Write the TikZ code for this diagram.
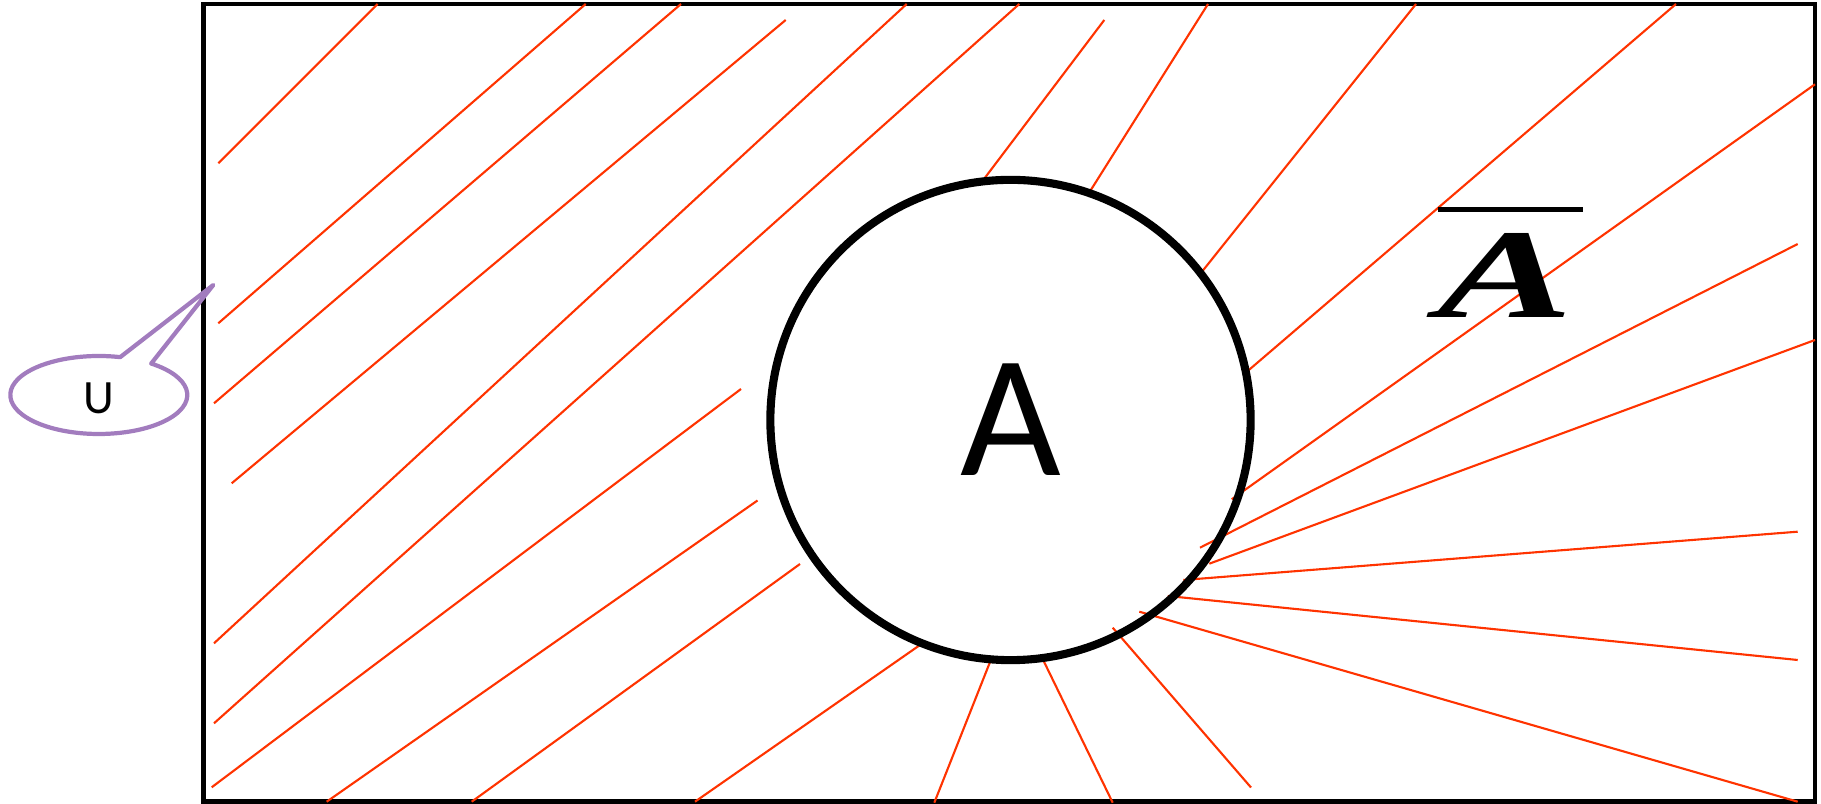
\documentclass[tikz,border=0pt]{standalone}
\usepackage{fontspec}
\newfontfamily\calibfont{Carlito}
\newfontfamily\timesfont{Liberation Serif}
\definecolor{hatchred}{RGB}{255,51,0}
\definecolor{upurple}{RGB}{162,124,190}

\begin{document}
\begin{tikzpicture}[x=0.01cm, y=-0.01cm,
  frame/.style={black, line width=1.3pt},
  hatch/.style={hatchred, line width=0.6pt},
  setcircle/.style={circle, draw=black, line width=2.3pt, minimum size=4.8cm, inner sep=0pt,
    font=\calibfont\fontsize{49.5}{50}\selectfont},
  callout/.style={upurple, line width=1.2pt, line join=round, line cap=round}]
  \useasboundingbox (0,0) rectangle (1821,804);

  % Universe
  \draw[frame] (203.3,4) rectangle (1814.8,801.7);

  % Hatching, left part
  \draw[hatch] (218.3,163.3) -- (377.7,4);
  \draw[hatch] (218.3,323.3) -- (585.7,4);
  \draw[hatch] (214,403.3) -- (681,4);
  \draw[hatch] (231.7,483.3) -- (785.7,20);
  \draw[hatch] (214,643.3) -- (906.7,4);
  \draw[hatch] (214,723.3) -- (1019.3,4);
  \draw[hatch] (211.7,787.3) -- (741,389);
  \draw[hatch] (326.7,801.7) -- (757.5,500.5);
  \draw[hatch] (471.7,801.7) -- (800,564);

  % Hatching, below the set
  \draw[hatch] (695,801.7) -- (921,644.3);
  \draw[hatch] (934.3,802.7) -- (990.7,660.3);
  \draw[hatch] (1112.7,802.7) -- (1043.3,660.3);
  \draw[hatch] (1251,787.5) -- (1112.7,627.7);

  % Hatching, right part
  \draw[hatch] (1797.7,801.7) -- (1139.3,611.7);
  \draw[hatch] (1797.7,660) -- (1167.7,596);
  \draw[hatch] (1797.7,531.7) -- (1183.3,580);
  \draw[hatch] (1815,340) -- (1209.3,563.7);
  \draw[hatch] (1797.7,244) -- (1200,547.7);
  \draw[hatch] (1815,84.3) -- (1231.7,499.3);
  \draw[hatch] (1676,4) -- (1247.7,371);
  \draw[hatch] (1416,4) -- (1199.3,275);
  \draw[hatch] (1208,4) -- (1087.7,195);
  \draw[hatch] (1104.3,20) -- (984,179);

  % Set A
  \node[setcircle] (seta) at (1010.5,420) {A};

  % Complement label
  \node[inner sep=0pt, xscale=1.6, font=\timesfont\bfseries\itshape\fontsize{36.2}{37}\selectfont]
    (acomp) at (1505.5,275.8) {A};
  \draw[black, line width=1.35pt] (1438.3,209.7) -- (1583.3,209.7);

  % Callout for U
  \node[inner sep=0pt, font=\calibfont\fontsize{13.6}{14}\selectfont] (ulabel) at (98.7,398.7) {U};
  \coordinate (utip) at (213.3,285);
  \draw[callout] (98.8,395) ++(-53.7:88.5 and 39)
    arc[start angle=-53.7, end angle=284, x radius=88.5, y radius=39] -- (utip) -- cycle;
\end{tikzpicture}
\end{document}
